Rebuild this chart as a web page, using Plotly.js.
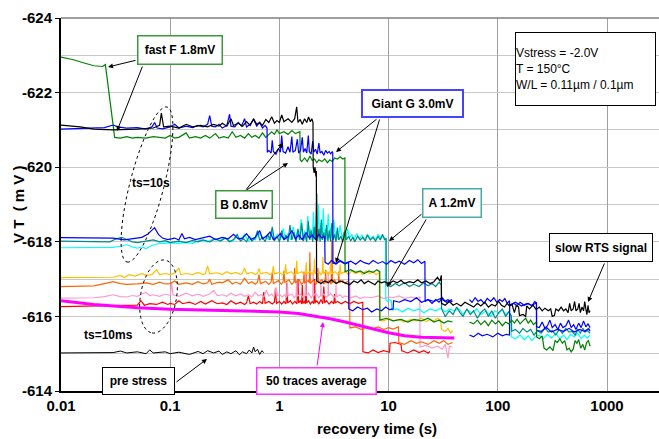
<!DOCTYPE html>
<html><head><meta charset="utf-8">
<script src="https://cdn.plot.ly/plotly-3.0.1.min.js"></script>
<style>html,body{margin:0;padding:0;background:#fff}#chart{width:659px;height:439px}</style>
</head><body><div id="chart"></div>
<script>
// ---------- data (recovery time s, VT mV) ----------
const xTickVals = [0.01, 0.1, 1, 10, 100, 1000];
const xTickText = ['0.01', '0.1', '1', '10', '100', '1000'];
const yTickVals = [-624, -622, -620, -618, -616, -614];
const yTickText = ['-624', '-622', '-620', '-618', '-616', '-614'];

const preStress = [[0.01,-615.02],[0.03,-615.03],[0.035,-615.07],[0.04,-615.02],[0.05,-615.05],[0.06,-615.0],[0.065,-615.1],[0.07,-615.02],[0.09,-615.05],[0.1,-615.0],[0.12,-615.04],[0.15,-614.98],[0.18,-615.06],[0.2,-615.0],[0.22,-615.08],[0.25,-615.02],[0.28,-615.07],[0.3,-614.98],[0.33,-615.05],[0.36,-615.0],[0.4,-615.08],[0.43,-614.97],[0.46,-615.05],[0.5,-615.0],[0.53,-615.1],[0.56,-615.02],[0.58,-615.18],[0.6,-615.05],[0.63,-615.12],[0.66,-614.98],[0.69,-615.08],[0.72,-615.03]];

const average50 = [[0.01,-616.42],[0.02,-616.32],[0.05,-616.23],[0.1,-616.19],[0.3,-616.16],[1,-616.12],[1.5,-616.08],[2,-616.02],[3,-615.93],[4,-615.85],[5,-615.78],[7,-615.67],[10,-615.56],[14,-615.48],[20,-615.44],[40,-615.42]];

const blackRTS = [[0.01,-621.13],[0.015,-621.08],[0.02,-621.02],[0.03,-621.0],[0.05,-621.02],[0.07,-621.05],[0.08,-621.12],[0.083,-621.45],[0.087,-621.08],[0.1,-621.1],[0.12,-621.05],[0.14,-621.15],[0.16,-621.08],[0.19,-621.12],[0.22,-621.08],[0.25,-621.15],[0.28,-621.1],[0.3,-621.18],[0.33,-621.1],[0.36,-621.3],[0.38,-621.12],[0.42,-621.18],[0.46,-621.1],[0.5,-621.22],[0.54,-621.12],[0.58,-621.3],[0.62,-621.15],[0.66,-621.2],[0.7,-621.12],[0.75,-621.28],[0.8,-621.2],[0.85,-621.35],[0.9,-621.18],[0.95,-621.25],[1.0,-621.2],[1.05,-621.4],[1.1,-621.22],[1.2,-621.3],[1.3,-621.2],[1.38,-621.3],[1.44,-621.62],[1.48,-621.2],[1.55,-621.28],[1.62,-621.15],[1.7,-621.3],[1.78,-621.2],[1.85,-621.35],[1.92,-621.22],[1.98,-621.3],[2.03,-621.2],[2.04,-620.0],[2.08,-619.85],[2.12,-620.0],[2.16,-619.75],[2.18,-619.9],[2.19,-616.95],[2.4,-616.88],[2.6,-616.95],[2.8,-616.9],[3.0,-616.98],[3.3,-616.88],[3.6,-616.95],[4.0,-616.9],[4.4,-616.85],[4.8,-616.95],[5.2,-616.9],[5.6,-616.98],[6.0,-616.88],[6.5,-616.95],[7.0,-616.9],[7.5,-616.85],[8.0,-616.95],[8.6,-616.9],[9.2,-616.93],[10,-616.87],[11,-616.95],[12,-616.9],[13,-616.97],[14,-616.88],[15.5,-616.93],[17,-616.9],[18.5,-616.98],[20,-616.9],[22,-616.95],[24,-616.88],[26,-616.93],[28,-617.05],[29.5,-616.95],[30.4,-617.1],[30.5,-616.35],[33,-616.3],[36,-616.4],[39,-616.3],[42,-616.35],[46,-616.28],[50,-616.38],[55,-616.3],[60,-616.25],[65,-616.35],[70,-616.28],[76,-616.38],[82,-616.25],[88,-616.32],[95,-616.28],[102,-616.4],[108,-616.3],[115,-616.25],[122,-616.35],[128,-616.28],[135,-616.32],[142,-616.1],[148,-616.3],[155,-616.25],[158,-616.02],[170,-616.05],[180,-616.0],[184,-616.28],[195,-616.2],[210,-616.3],[225,-616.18],[240,-616.25],[255,-616.15],[270,-616.22],[290,-616.15],[305,-616.2],[315,-616.0],[330,-616.02],[340,-616.2],[360,-616.15],[380,-616.25],[400,-616.15],[420,-616.2],[440,-616.1],[455,-616.35],[470,-616.15],[490,-616.2],[505,-616.4],[520,-616.15],[540,-616.2],[555,-616.35],[570,-616.1],[590,-616.25],[610,-616.15],[625,-616.4],[640,-616.2],[655,-616.05],[670,-616.3],[685,-616.1],[700,-616.15]];

const blueGiant = [[0.01,-621.02],[0.015,-621.03],[0.02,-621.05],[0.025,-621.06],[0.03,-621.13],[0.033,-621.08],[0.04,-621.05],[0.05,-621.06],[0.06,-621.02],[0.068,-621.08],[0.072,-621.2],[0.076,-621.05],[0.085,-621.03],[0.1,-621.08],[0.11,-621.15],[0.12,-621.05],[0.14,-621.1],[0.16,-621.06],[0.18,-621.12],[0.2,-621.08],[0.22,-621.15],[0.23,-621.38],[0.24,-621.1],[0.26,-621.08],[0.28,-621.15],[0.3,-621.05],[0.33,-621.12],[0.35,-621.42],[0.36,-621.1],[0.39,-621.08],[0.42,-621.2],[0.45,-621.1],[0.48,-621.3],[0.5,-621.08],[0.54,-621.15],[0.58,-621.28],[0.62,-621.1],[0.66,-621.2],[0.7,-621.05],[0.74,-621.12],[0.77,-621.05],[0.775,-620.4],[0.8,-620.45],[0.84,-620.38],[0.86,-620.72],[0.88,-620.42],[0.93,-620.35],[0.98,-620.5],[1.02,-620.4],[1.05,-620.85],[1.08,-620.42],[1.14,-620.38],[1.2,-620.55],[1.25,-620.4],[1.3,-620.82],[1.33,-620.4],[1.4,-620.45],[1.46,-620.75],[1.5,-620.38],[1.56,-620.45],[1.62,-620.8],[1.66,-620.4],[1.72,-620.5],[1.78,-620.38],[1.84,-620.85],[1.88,-620.42],[1.95,-620.35],[2.02,-620.7],[2.06,-620.4],[2.14,-620.48],[2.22,-620.35],[2.3,-620.65],[2.36,-620.38],[2.45,-620.42],[2.55,-620.32],[2.65,-620.45],[2.75,-620.38],[2.85,-620.42],[2.95,-620.36],[3.05,-620.42],[3.08,-620.38],[3.09,-617.43],[3.3,-617.4],[3.6,-617.5],[4.0,-617.42],[4.5,-617.48],[5.0,-617.4],[5.5,-617.5],[6.0,-617.44],[6.6,-617.4],[7.2,-617.5],[8.0,-617.42],[8.8,-617.47],[9.6,-617.4],[10.5,-617.5],[11.5,-617.43],[12.5,-617.48],[14,-617.4],[15.5,-617.5],[17,-617.44],[18.5,-617.52],[20,-617.42],[21.5,-617.48],[21.6,-616.4],[23,-616.45],[25,-616.35],[27,-616.45],[29,-616.38],[31,-616.5],[33,-616.4],[35,-616.45],[37,-616.38],[38.5,-616.42],[45,null],[55,-616.45],[58,-616.38],[62,-616.5],[66,-616.4],[70,-616.45],[75,-616.35],[80,-616.48],[86,-616.4],[92,-616.5],[98,-616.38],[104,-616.45],[110,-616.4],[116,-616.48],[122,-616.35],[128,-616.42],[128.5,-616.3],[140,-616.35],[150,-616.28],[160,-616.38],[175,-616.3],[190,-616.35],[205,-616.28],[218,-616.4],[226,-616.35],[226.5,-615.72],[240,-615.7],[255,-615.85],[270,-615.68],[285,-615.75],[300,-615.9],[315,-615.7],[335,-615.78],[355,-615.65],[375,-615.82],[395,-615.7],[420,-615.75],[445,-615.9],[470,-615.7],[495,-615.78],[520,-615.65],[550,-615.82],[580,-615.7],[610,-615.88],[640,-615.72],[670,-615.8],[700,-615.7]];

const blueLow = [[0.01,-618.11],[0.02,-618.1],[0.03,-618.1],[0.038,-618.05],[0.045,-618.08],[0.055,-618.12],[0.062,-618.2],[0.068,-618.3],[0.072,-618.38],[0.078,-618.2],[0.085,-618.1],[0.095,-618.06],[0.11,-618.1],[0.12,-618.05],[0.128,-618.22],[0.135,-618.08],[0.15,-618.12],[0.17,-618.06],[0.2,-618.1],[0.23,-618.15],[0.26,-618.06],[0.3,-618.12],[0.34,-618.08],[0.38,-618.2],[0.42,-618.08],[0.46,-618.1],[0.5,-618.22],[0.55,-618.06],[0.6,-618.12],[0.66,-618.3],[0.7,-618.08],[0.76,-618.15],[0.82,-618.26],[0.88,-618.06],[0.95,-618.12],[1.02,-618.22],[1.1,-618.06],[1.2,-618.14],[1.3,-618.3],[1.4,-618.08],[1.5,-618.18],[1.62,-618.06],[1.75,-618.25],[1.88,-618.1],[2.0,-618.18],[2.15,-618.06],[2.3,-618.2],[2.45,-618.1],[2.6,-618.15],[2.62,-617.45],[2.8,-617.4],[3.0,-617.5],[3.3,-617.42],[3.6,-617.48],[4.0,-617.4],[4.3,-617.45],[4.32,-616.2],[4.7,-616.15],[5.2,-616.25],[5.8,-616.18],[6.4,-616.22],[7.0,-616.12],[7.8,-616.2],[8.6,-616.15],[9.4,-616.25],[10.2,-616.18],[11,-616.2],[11.1,-616.42],[12.5,-616.38],[14,-616.45],[16,-616.4],[18,-616.5],[20,-616.38],[23,-616.45],[26,-616.4],[30,-616.48],[34,-616.38],[38,-616.45],[45,null],[55,-615.5],[60,-615.45],[66,-615.55],[72,-615.48],[80,-615.52],[90,-615.45],[100,-615.55],[110,-615.48],[120,-615.52],[128,-615.5],[128.5,-616.3],[145,-616.38],[165,-616.28],[185,-616.35],[205,-616.3],[226,-616.36],[226.5,-615.62],[250,-615.6],[280,-615.7],[310,-615.58],[350,-615.65],[400,-615.6],[450,-615.68],[500,-615.58],[560,-615.65],[620,-615.6],[680,-615.67],[700,-615.6]];

const tealA = [[0.01,-618.02],[0.02,-618.02],[0.028,-618.0],[0.032,-618.08],[0.036,-618.12],[0.04,-618.06],[0.045,-618.0],[0.05,-617.98],[0.06,-618.02],[0.07,-618.05],[0.08,-618.0],[0.09,-618.03],[0.1,-617.98],[0.12,-618.02],[0.14,-617.98],[0.16,-618.04],[0.18,-618.0],[0.2,-618.05],[0.23,-618.0],[0.26,-618.08],[0.29,-618.02],[0.32,-618.1],[0.35,-618.0],[0.38,-618.06],[0.41,-618.2],[0.44,-618.02],[0.47,-618.08],[0.5,-618.0],[0.53,-618.15],[0.56,-618.02],[0.6,-618.1],[0.63,-618.3],[0.66,-618.04],[0.7,-618.12],[0.74,-618.0],[0.78,-618.2],[0.82,-618.05],[0.86,-618.4],[0.9,-618.02],[0.95,-618.15],[1.0,-618.0],[1.05,-618.3],[1.1,-618.05],[1.15,-618.18],[1.2,-618.0],[1.25,-618.45],[1.3,-618.05],[1.36,-618.25],[1.42,-618.0],[1.48,-618.35],[1.54,-618.05],[1.6,-618.5],[1.66,-618.02],[1.72,-618.2],[1.78,-618.0],[1.84,-618.55],[1.9,-618.05],[1.96,-618.3],[2.02,-618.0],[2.08,-618.4],[2.14,-618.05],[2.2,-619.3],[2.24,-618.02],[2.3,-618.35],[2.36,-618.0],[2.42,-618.6],[2.48,-618.05],[2.55,-618.25],[2.62,-618.0],[2.7,-618.45],[2.78,-618.02],[2.86,-618.3],[2.94,-618.0],[3.02,-618.5],[3.1,-618.05],[3.2,-618.2],[3.3,-618.0],[3.4,-618.38],[3.5,-618.05],[3.65,-618.15],[3.8,-618.0],[3.95,-618.3],[4.1,-618.05],[4.3,-618.15],[4.5,-618.02],[4.7,-618.12],[4.9,-618.0],[5.2,-618.15],[5.5,-618.05],[5.8,-618.12],[6.1,-618.02],[6.4,-618.18],[6.8,-618.05],[7.2,-618.12],[7.6,-618.02],[8.0,-618.15],[8.4,-618.05],[8.8,-618.2],[9.2,-618.05],[9.5,-618.1],[9.52,-616.84],[10.5,-616.8],[11.5,-616.88],[12.5,-616.82],[14,-616.9],[15.5,-616.8],[17,-616.86],[19,-616.8],[21,-616.9],[23,-616.82],[25,-616.88],[27,-616.8],[29,-616.92],[30.4,-616.84],[30.6,-616.2],[33,-616.0],[36,-616.15],[39,-616.05],[42,-616.25],[45,-616.1],[48,-616.0],[52,-616.2],[56,-616.05],[60,-616.15],[65,-615.95],[70,-616.1],[76,-616.2],[82,-616.0],[88,-616.15],[95,-615.95],[102,-616.1],[110,-616.2],[118,-616.0],[126,-616.12],[133,-616.02],[134,-615.6],[145,-615.65],[158,-615.55],[170,-615.68],[185,-615.58],[200,-615.65],[215,-615.5],[230,-615.62],[250,-615.55],[270,-615.7],[290,-615.58],[315,-615.62],[340,-615.5],[365,-615.65],[390,-615.55],[420,-615.68],[450,-615.58],[480,-615.6],[510,-615.5],[540,-615.65],[570,-615.55],[600,-615.68],[630,-615.58],[660,-615.62],[700,-615.55]];

const cyanTrace = [[0.01,-617.84],[0.02,-617.84],[0.03,-617.85],[0.035,-617.88],[0.04,-617.92],[0.045,-617.86],[0.05,-617.83],[0.055,-617.86],[0.06,-617.82],[0.068,-617.9],[0.08,-617.96],[0.1,-617.97],[0.12,-617.96],[0.14,-617.98],[0.16,-617.96],[0.19,-618.05],[0.22,-618.0],[0.25,-618.08],[0.28,-618.02],[0.31,-618.1],[0.34,-618.05],[0.37,-618.0],[0.4,-618.12],[0.44,-618.05],[0.48,-618.2],[0.52,-618.02],[0.56,-618.1],[0.6,-618.05],[0.65,-618.25],[0.7,-618.08],[0.75,-618.15],[0.8,-618.05],[0.85,-618.3],[0.9,-618.08],[0.96,-618.2],[1.02,-618.05],[1.08,-618.35],[1.14,-618.08],[1.2,-618.22],[1.27,-618.05],[1.34,-618.4],[1.4,-618.08],[1.46,-618.28],[1.52,-618.05],[1.58,-618.6],[1.64,-618.08],[1.7,-618.3],[1.76,-618.05],[1.82,-618.7],[1.88,-618.1],[1.94,-618.35],[2.0,-618.05],[2.05,-618.8],[2.1,-618.1],[2.16,-618.4],[2.22,-618.05],[2.28,-619.0],[2.33,-618.1],[2.4,-618.5],[2.46,-618.05],[2.52,-618.9],[2.58,-618.1],[2.65,-618.35],[2.72,-618.05],[2.8,-618.75],[2.88,-618.1],[2.96,-618.4],[3.05,-618.05],[3.15,-618.6],[3.25,-618.1],[3.35,-618.3],[3.45,-618.05],[3.6,-618.45],[3.75,-618.1],[3.9,-618.25],[4.05,-618.05],[4.2,-618.35],[4.4,-618.1],[4.6,-618.2],[4.8,-618.05],[5.1,-618.22],[5.4,-618.08],[5.7,-618.18],[6.0,-618.05],[6.4,-618.2],[6.8,-618.08],[7.2,-618.15],[7.6,-618.05],[8.0,-618.2],[8.5,-618.1],[9.0,-618.15],[9.4,-618.05],[9.42,-616.45],[9.8,-616.4],[10.2,-616.45],[10.6,-616.42],[10.7,-616.17],[12,-616.2],[13.5,-616.12],[15,-616.22],[17,-616.15],[19,-616.2],[21,-616.1],[24,-616.2],[27,-616.15],[30,-616.22],[33,-616.12],[36,-616.2],[40,-616.15],[44,-616.2],[48,-616.05],[52,-616.18],[58,-616.1],[64,-616.2],[70,-616.05],[78,-616.15],[86,-616.0],[94,-616.15],[102,-616.08],[110,-616.18],[118,-616.05],[126,-616.12],[132,-616.0],[133,-615.45],[145,-615.4],[160,-615.5],[175,-615.38],[190,-615.48],[205,-615.35],[220,-615.45],[240,-615.5],[260,-615.4],[285,-615.52],[310,-615.42],[340,-615.55],[370,-615.4],[400,-615.5],[430,-615.38],[465,-615.52],[500,-615.45],[540,-615.55],[580,-615.4],[620,-615.5],[660,-615.42],[700,-615.5]];

const yellowTrace = [[0.01,-617.04],[0.02,-617.04],[0.03,-617.05],[0.035,-617.1],[0.038,-617.04],[0.042,-617.12],[0.048,-617.08],[0.055,-617.15],[0.06,-617.1],[0.068,-617.12],[0.075,-617.25],[0.08,-617.12],[0.09,-617.15],[0.1,-617.12],[0.11,-617.16],[0.12,-617.3],[0.125,-617.12],[0.14,-617.15],[0.16,-617.12],[0.18,-617.18],[0.2,-617.12],[0.21,-617.15],[0.22,-617.35],[0.23,-617.14],[0.27,-617.17],[0.3,-617.12],[0.33,-617.2],[0.36,-617.14],[0.4,-617.18],[0.44,-617.12],[0.46,-617.16],[0.48,-617.3],[0.5,-617.14],[0.56,-617.18],[0.6,-617.12],[0.63,-617.16],[0.65,-617.28],[0.67,-617.14],[0.76,-617.18],[0.82,-617.12],[0.86,-617.16],[0.88,-617.35],[0.9,-617.14],[1.0,-617.18],[1.07,-617.12],[1.12,-617.16],[1.14,-617.4],[1.16,-617.14],[1.28,-617.2],[1.36,-617.12],[1.42,-617.16],[1.44,-617.5],[1.46,-617.15],[1.6,-617.2],[1.68,-617.12],[1.74,-617.17],[1.76,-617.45],[1.78,-617.15],[1.92,-617.2],[2.0,-617.12],[2.07,-617.17],[2.1,-617.55],[2.13,-617.15],[2.3,-617.2],[2.4,-617.12],[2.47,-617.17],[2.5,-617.6],[2.53,-617.15],[2.7,-617.22],[2.8,-617.12],[2.9,-617.17],[2.95,-617.5],[3.0,-617.15],[3.25,-617.2],[3.4,-617.12],[3.55,-617.17],[3.6,-617.4],[3.65,-617.15],[4.0,-617.2],[4.3,-617.12],[4.6,-617.22],[5.0,-617.15],[5.4,-617.2],[5.8,-617.12],[6.2,-617.22],[6.7,-617.15],[7.2,-617.2],[7.7,-617.12],[8.2,-617.18],[8.3,-615.9],[9,-615.88],[10,-615.95],[11,-615.88],[12.5,-615.92],[14,-615.85],[16,-615.92],[18,-615.88],[20,-615.95],[22,-615.86],[24,-615.92],[26,-615.88],[28,-615.95],[30,-615.9],[30.5,-615.65],[33,-615.6],[35,-615.68],[37,-615.55],[38.5,-615.62]];

const orangeTrace = [[0.01,-616.8],[0.015,-616.8],[0.02,-616.82],[0.025,-616.88],[0.03,-616.93],[0.035,-616.88],[0.04,-616.86],[0.05,-616.87],[0.06,-616.9],[0.07,-616.86],[0.08,-616.92],[0.09,-616.87],[0.1,-616.88],[0.11,-616.95],[0.12,-616.86],[0.14,-616.9],[0.16,-616.86],[0.18,-616.93],[0.2,-616.87],[0.22,-616.9],[0.23,-617.0],[0.24,-616.86],[0.28,-616.92],[0.3,-616.9],[0.34,-616.98],[0.37,-616.87],[0.4,-616.92],[0.44,-616.86],[0.48,-617.02],[0.52,-616.88],[0.56,-616.93],[0.6,-616.86],[0.63,-616.92],[0.65,-617.12],[0.67,-616.88],[0.75,-616.94],[0.8,-616.86],[0.84,-616.92],[0.86,-617.18],[0.88,-616.88],[0.98,-616.96],[1.04,-616.86],[1.08,-616.92],[1.1,-617.22],[1.12,-616.9],[1.22,-616.98],[1.3,-616.86],[1.36,-616.92],[1.38,-617.3],[1.4,-616.9],[1.52,-616.98],[1.6,-616.86],[1.66,-616.92],[1.68,-617.2],[1.7,-616.9],[1.85,-616.96],[1.88,-616.9],[1.9,-617.72],[1.92,-616.88],[2.05,-616.98],[2.15,-616.86],[2.22,-616.92],[2.25,-617.3],[2.28,-616.9],[2.45,-616.98],[2.55,-616.86],[2.62,-616.92],[2.65,-617.25],[2.68,-616.9],[2.85,-616.96],[2.98,-616.86],[3.02,-618.05],[3.06,-616.9],[3.2,-616.98],[3.35,-616.88],[3.47,-616.92],[3.5,-617.2],[3.53,-616.9],[3.8,-616.96],[4.0,-616.88],[4.2,-616.94],[4.4,-616.9],[4.42,-615.69],[5.0,-615.72],[5.6,-615.65],[6.3,-615.72],[7,-615.66],[8,-615.72],[9,-615.65],[10,-615.7],[11,-615.66],[12.3,-615.72],[12.4,-615.3],[14,-615.25],[16,-615.35],[18,-615.28],[20,-615.32],[23,-615.25],[26,-615.35],[29,-615.28],[32,-615.35],[35,-615.25],[38.5,-615.3]];

const pinkTrace = [[0.01,-616.49],[0.02,-616.5],[0.025,-616.53],[0.03,-616.58],[0.035,-616.53],[0.04,-616.52],[0.045,-616.56],[0.05,-616.54],[0.055,-616.6],[0.06,-616.64],[0.065,-616.56],[0.07,-616.58],[0.08,-616.54],[0.09,-616.6],[0.1,-616.56],[0.103,-616.9],[0.106,-616.58],[0.12,-616.54],[0.14,-616.62],[0.16,-616.55],[0.18,-616.6],[0.2,-616.54],[0.23,-616.6],[0.25,-616.7],[0.27,-616.56],[0.3,-616.58],[0.33,-616.54],[0.36,-616.62],[0.4,-616.55],[0.44,-616.6],[0.48,-616.54],[0.52,-616.58],[0.56,-616.52],[0.6,-616.65],[0.64,-616.55],[0.68,-616.58],[0.72,-616.52],[0.76,-616.7],[0.8,-616.55],[0.85,-616.6],[0.9,-616.52],[0.93,-616.78],[0.96,-616.55],[1.0,-616.6],[1.06,-616.52],[1.12,-616.58],[1.16,-616.5],[1.18,-616.9],[1.2,-616.55],[1.3,-616.6],[1.37,-616.5],[1.42,-616.56],[1.44,-617.0],[1.46,-616.54],[1.55,-616.6],[1.66,-616.5],[1.72,-616.56],[1.74,-617.15],[1.76,-616.55],[1.85,-616.62],[1.96,-616.5],[2.02,-616.56],[2.04,-617.25],[2.06,-616.55],[2.15,-616.62],[2.3,-616.5],[2.38,-616.56],[2.4,-617.0],[2.42,-616.54],[2.55,-616.6],[2.7,-616.5],[2.78,-616.56],[2.8,-617.2],[2.82,-616.55],[2.95,-616.62],[3.15,-616.5],[3.28,-616.56],[3.3,-616.85],[3.32,-616.52],[3.6,-616.58],[3.8,-616.5],[4.0,-616.55],[4.5,-616.5],[5,-616.55],[5.5,-616.48],[6,-616.52],[7,-616.5],[8,-616.55],[9,-616.48],[10,-616.52],[11,-616.5],[12.5,-616.55],[14,-616.48],[16,-616.52],[18,-616.5],[19.3,-616.52],[19.4,-615.18],[22,-615.22],[25,-615.15],[28,-615.2],[31,-615.12],[33,-615.25],[35,-614.88],[36,-615.2],[38.5,-615.18]];

const redTrace = [[0.01,-616.26],[0.02,-616.27],[0.03,-616.28],[0.04,-616.3],[0.05,-616.3],[0.054,-616.42],[0.058,-616.3],[0.065,-616.34],[0.075,-616.32],[0.085,-616.38],[0.095,-616.32],[0.1,-616.35],[0.11,-616.32],[0.12,-616.42],[0.13,-616.34],[0.15,-616.38],[0.17,-616.32],[0.19,-616.4],[0.21,-616.33],[0.24,-616.42],[0.27,-616.34],[0.3,-616.36],[0.33,-616.32],[0.36,-616.42],[0.4,-616.33],[0.44,-616.38],[0.48,-616.32],[0.5,-616.36],[0.52,-616.55],[0.54,-616.34],[0.58,-616.38],[0.62,-616.33],[0.66,-616.4],[0.7,-616.34],[0.72,-616.65],[0.74,-616.35],[0.8,-616.4],[0.86,-616.33],[0.9,-616.38],[0.92,-616.75],[0.94,-616.35],[1.0,-616.4],[1.05,-616.33],[1.1,-616.4],[1.15,-616.34],[1.17,-616.9],[1.19,-616.36],[1.26,-616.42],[1.32,-616.33],[1.38,-616.4],[1.45,-616.34],[1.48,-617.0],[1.5,-616.36],[1.56,-616.42],[1.6,-616.33],[1.62,-616.84],[1.64,-616.35],[1.7,-616.4],[1.73,-616.34],[1.75,-617.2],[1.77,-616.36],[1.85,-616.42],[1.92,-616.33],[2.0,-616.4],[2.07,-616.34],[2.1,-617.0],[2.13,-616.36],[2.2,-616.42],[2.3,-616.33],[2.4,-616.45],[2.5,-616.34],[2.55,-616.8],[2.6,-616.36],[2.7,-616.42],[2.85,-616.33],[3.0,-616.4],[3.15,-616.34],[3.2,-616.6],[3.25,-616.36],[3.4,-616.4],[3.7,-616.34],[4.0,-616.4],[4.4,-616.34],[4.8,-616.4],[5.3,-616.35],[5.8,-616.38],[5.82,-615.05],[6.5,-615.02],[7.2,-615.1],[8,-615.03],[9,-615.08],[10.2,-615.04],[10.3,-615.28],[11.5,-615.3],[13,-615.25],[13.2,-615.08],[15,-615.02],[17,-615.1],[19,-615.03],[21,-615.08],[23,-615.02],[24,-615.06]];

const greenFast = [[0.01,-622.95],[0.013,-622.88],[0.016,-622.8],[0.02,-622.72],[0.024,-622.7],[0.0255,-622.75],[0.031,-620.8],[0.035,-620.78],[0.04,-620.82],[0.045,-620.78],[0.05,-620.8],[0.06,-620.78],[0.07,-620.82],[0.08,-620.8],[0.09,-620.78],[0.1,-620.85],[0.11,-620.78],[0.12,-620.8],[0.14,-620.92],[0.15,-620.78],[0.17,-620.82],[0.19,-620.78],[0.21,-620.85],[0.23,-620.78],[0.26,-620.9],[0.28,-620.78],[0.31,-620.82],[0.34,-620.78],[0.37,-620.95],[0.4,-620.8],[0.44,-620.85],[0.48,-620.78],[0.52,-620.9],[0.56,-620.8],[0.6,-620.85],[0.65,-620.78],[0.7,-620.92],[0.75,-620.8],[0.8,-620.88],[0.85,-620.95],[0.9,-620.88],[0.95,-621.0],[1.0,-620.9],[1.1,-620.95],[1.2,-620.88],[1.3,-620.98],[1.4,-620.9],[1.54,-620.95],[1.55,-620.2],[1.6,-620.15],[1.7,-620.25],[1.8,-620.15],[1.9,-620.3],[2.0,-620.18],[2.1,-620.22],[2.2,-620.12],[2.3,-620.2],[2.45,-620.15],[2.6,-620.22],[2.75,-620.12],[2.9,-620.2],[3.05,-620.15],[3.2,-620.25],[3.4,-620.22],[3.6,-620.28],[3.8,-620.22],[3.98,-620.25],[3.99,-617.2],[4.5,-617.25],[5,-617.18],[5.5,-617.22],[6,-617.15],[6.6,-617.22],[7.2,-617.18],[7.8,-617.25],[8.3,-617.2],[8.32,-615.9],[9.5,-615.95],[11,-615.88],[13,-615.92],[15,-615.85],[17,-615.92],[20,-615.88],[23,-615.95],[26,-615.85],[29,-615.9],[32,-615.82],[35,-615.88],[38.5,-615.85],[45,null],[55,-615.85],[60,-615.8],[65,-615.9],[70,-615.78],[76,-615.88],[82,-615.75],[88,-615.9],[95,-615.8],[102,-615.88],[110,-615.75],[118,-615.85],[126,-615.8],[134,-615.9],[142,-615.82],[150,-615.92],[160,-615.8],[170,-615.88],[180,-615.95],[190,-615.82],[200,-615.9],[212,-615.78],[226,-615.85],[226.5,-615.45],[240,-615.4],[255,-615.48],[265,-615.15],[280,-615.1],[300,-615.18],[320,-615.08],[335,-615.35],[350,-615.3],[370,-615.4],[390,-615.28],[410,-615.35],[430,-615.1],[450,-615.15],[470,-615.05],[490,-615.12],[510,-615.35],[530,-615.28],[550,-615.38],[575,-615.15],[600,-615.25],[625,-615.1],[650,-615.3],[675,-615.35],[700,-615.2]];

// ---------- drawing ----------
const FONT = '"Liberation Sans", Arial, sans-serif';
function tr(pts, color, width) {
  return {type:'scatter', mode:'lines', x:pts.map(p=>p[0]), y:pts.map(p=>p[1]),
          line:{color:color, width:width}, hoverinfo:'skip', connectgaps:false};
}
const data = [
  tr(redTrace,'#ff0000',1.2),
  tr(pinkTrace,'#ff99cc',1.2),
  tr(orangeTrace,'#ff6600',1.2),
  tr(yellowTrace,'#ffc000',1.2),
  tr(cyanTrace,'#00ffff',1.2),
  tr(tealA,'#008b8b',1.2),
  tr(blueLow,'#0000ff',1.2),
  tr(greenFast,'#008000',1.2),
  tr(blueGiant,'#0000ff',1.2),
  tr(blackRTS,'#000000',1.2),
  tr(average50,'#ff00ff',3),
  tr(preStress,'#000000',1)
];

// plot area in pixels: left 61, right 659, top 18, bottom 391
const PL=61, PR=659, PT=18, PB=391;
const fx = px => (px-PL)/(PR-PL);
const fy = py => (PB-py)/(PB-PT);

const ann = [];
function box(x0,y0,x1,y1,text,border,opts) {
  opts = opts||{};
  const bw = opts.bw||1.5;
  ann.push({xref:'paper', yref:'paper', x:fx((x0+x1)/2), y:fy((y0+y1)/2), xanchor:'center', yanchor:'middle',
    text:text, showarrow:false, bgcolor:'#ffffff', bordercolor:border, borderwidth:bw, borderpad:0,
    width:(x1-x0)-2*bw, height:(y1-y0)-2*bw, align:opts.align||'center', valign:'middle',
    font:{family:FONT, size:opts.size||12, color:'#000', weight:opts.weight||'bold'}});
}
function arrow(tx,ty,hx,hy,color) {
  ann.push({xref:'paper', yref:'paper', x:fx(hx), y:fy(hy), ax:tx-hx, ay:ty-hy, axref:'pixel', ayref:'pixel',
    text:'', showarrow:true, arrowhead:2, arrowsize:1, arrowwidth:1, arrowcolor:color||'#000'});
}
function label(cx,cy,text,size,angle) {
  ann.push({xref:'paper', yref:'paper', x:fx(cx), y:fy(cy), xanchor:'center', yanchor:'middle', text:text,
    showarrow:false, textangle:angle||0, font:{family:FONT, size:size, color:'#000', weight:'bold'}});
}

arrow(137,60,108,67); arrow(143,65,117,131);
box(137,35,223,65,'fast F 1.8mV','#3c9a3c');
arrow(378,118,336,152); arrow(380,118,336,263);
box(361,89,464,118,'Giant G 3.0mV','#4444ff',{bw:2});
arrow(245,191,283,143); arrow(245,191,288,163);
box(215,190,273,219,'B 0.8mV','#3c9a3c');
arrow(423,213,389,241); arrow(427,218,387,287);
box(422,188,482,218,'A 1.2mV','#4aa8a8');
arrow(605,262,588,302);
box(549,233,653,262,'slow RTS signal','#000',{bw:1});
arrow(175,383,207,359);
box(102,367,175,395,'pre stress','#000',{bw:1});
arrow(317,367,323,322,'#ff00ff');
box(256,367,377,395,'50 traces average','#ff33ff',{bw:1.5});
box(515,32,656,106,'Vstress = -2.0V<br>T = 150°C<br>W/L = 0.11µm / 0.1µm','#000',{bw:1,align:'left',weight:'normal',size:12});
label(151,183,'ts=10s',12);
label(108,335,'ts=10ms',12);
label(18,204,'V T  ( m V )',15,-90);
label(377,428,'recovery time (s)',15);

function ellipsePath(cx,cy,a,b,ux,uy) {
  let d='';
  for (let i=0;i<=72;i++) {
    const t=2*Math.PI*i/72;
    const px=cx+a*Math.cos(t)*ux+b*Math.sin(t)*uy;
    const py=cy+a*Math.cos(t)*uy-b*Math.sin(t)*ux;
    d += (i===0?'M':'L') + fx(px).toFixed(4) + ',' + fy(py).toFixed(4) + ' ';
  }
  return d + 'Z';
}
const shapes = [
  {type:'line', xref:'paper', yref:'paper', x0:0, x1:1, y0:1, y1:1, line:{color:'#7f7f7f', width:1.5}},
  {type:'path', xref:'paper', yref:'paper', path:ellipsePath(147,184.5,80,17,-0.25,0.969), line:{color:'#000', width:1, dash:'dot'}},
  {type:'path', xref:'paper', yref:'paper', path:ellipsePath(158.5,296.5,37,18,-0.175,0.985), line:{color:'#000', width:1, dash:'dot'}}
];

const layout = {
  width:659, height:439, margin:{l:PL, r:659-PR, t:PT, b:439-PB}, showlegend:false,
  paper_bgcolor:'#fff', plot_bgcolor:'#fff', font:{family:FONT, color:'#000'},
  xaxis:{type:'log', range:[-2, Math.log10(1000)+ (PR-607)/109.2], tickmode:'array', tickvals:xTickVals, ticktext:xTickText,
    tickfont:{family:FONT, size:15, weight:'bold', color:'#000'}, showgrid:true, gridcolor:'#a0a0a0', gridwidth:1,
    showline:true, linecolor:'#000', linewidth:2, zeroline:false, ticks:'', fixedrange:true},
  yaxis:{range:[-614,-624], tickmode:'array', tickvals:yTickVals, ticktext:yTickText,
    tickfont:{family:FONT, size:15, weight:'bold', color:'#000'}, showgrid:true, gridcolor:'#c8c8c8', gridwidth:1,
    minor:{dtick:1, showgrid:true, gridcolor:'#c8c8c8', gridwidth:1},
    showline:true, linecolor:'#000', linewidth:2, zeroline:false, ticks:'outside', ticklen:4, tickcolor:'#000', fixedrange:true},
  annotations:ann, shapes:shapes
};
Plotly.newPlot('chart', data, layout, {staticPlot:true, displayModeBar:false});
</script></body></html>
